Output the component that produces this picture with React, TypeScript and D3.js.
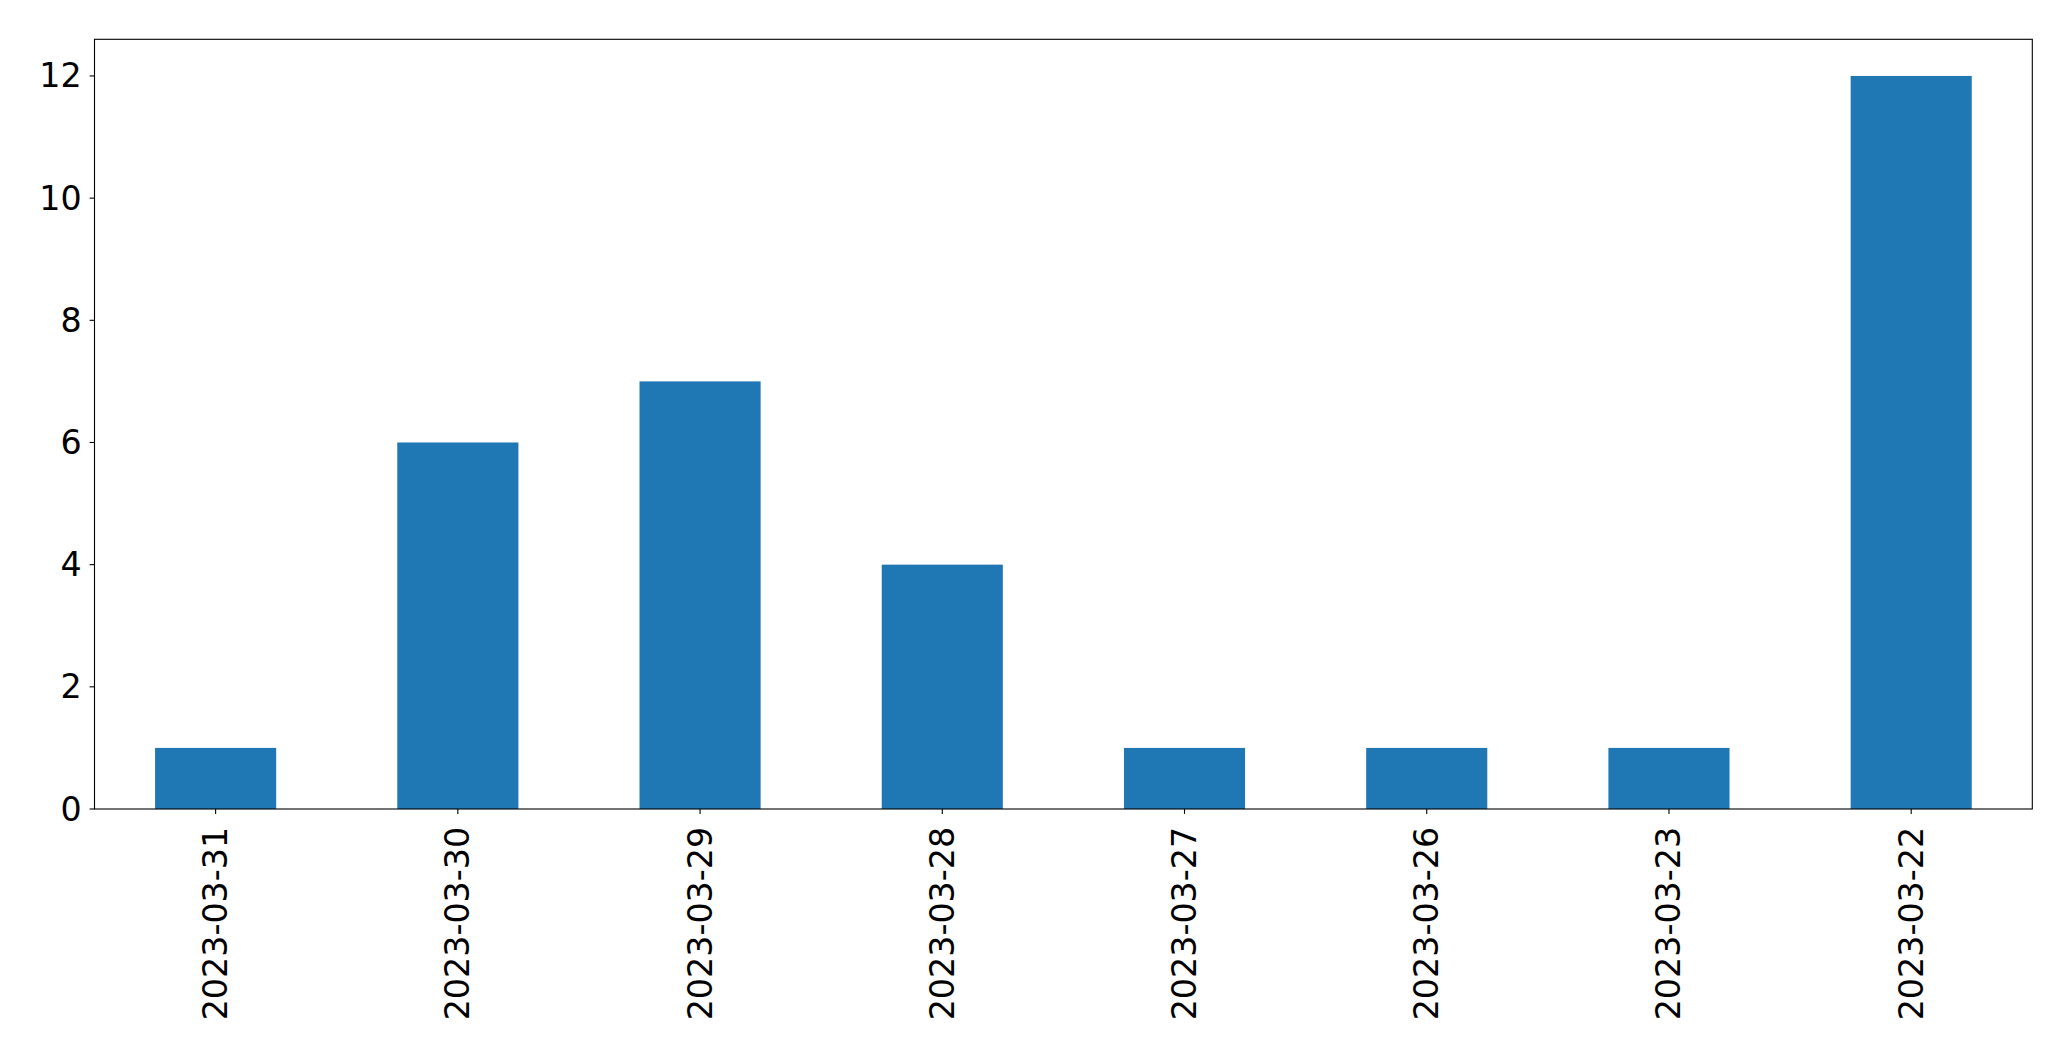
import React from "react";
import * as d3 from "d3";

// Daily counts, newest date first
const dates = [
  "2023-03-31",
  "2023-03-30",
  "2023-03-29",
  "2023-03-28",
  "2023-03-27",
  "2023-03-26",
  "2023-03-23",
  "2023-03-22",
];
const counts = [1, 6, 7, 4, 1, 1, 1, 12];
const yTicks = [0, 2, 4, 6, 8, 10, 12];

const W = 2071;
const H = 1061;
const margin = { left: 94.5, right: 2071 - 2032.3, top: 39.3, bottom: 1061 - 809 };
const FONT = "'DejaVu Sans', sans-serif";
const FS = 33.3;
const TICK = 4.9;
const PAD = 4.9;

export default function App() {
  const x0 = margin.left;
  const x1 = W - margin.right;
  const y0 = H - margin.bottom;
  const y1 = margin.top;

  const ymax = d3.max(counts)! * 1.05;
  const y = d3.scaleLinear().domain([0, ymax]).range([y0, y1]);
  // categorical positions on a linear scale from -0.5 to n-0.5, bar width 0.5
  const x = d3.scaleLinear().domain([-0.5, dates.length - 0.5]).range([x0, x1]);
  const bw = x(0.5) - x(0);

  return (
    <svg
      width={W}
      height={H}
      style={{ position: "absolute", left: 0, top: 0, background: "#fff" }}
      fontFamily={FONT}
    >
      <rect x={0} y={0} width={W} height={H} fill="#fff" />
      {counts.map((v, i) => (
        <rect
          key={dates[i]}
          x={x(i) - bw / 2}
          y={y(v)}
          width={bw}
          height={y(0) - y(v)}
          fill="#1f77b4"
        />
      ))}
      {/* frame */}
      <rect
        x={x0}
        y={y1}
        width={x1 - x0}
        height={y0 - y1}
        fill="none"
        stroke="#000"
        strokeWidth={1.1}
      />
      {/* y axis */}
      {yTicks.map((t) => (
        <g key={t}>
          <line x1={x0 - TICK} x2={x0} y1={y(t)} y2={y(t)} stroke="#000" strokeWidth={1.1} />
          <text
            x={x0 - TICK - PAD - 3}
            y={y(t)}
            textAnchor="end"
            dominantBaseline="central"
            fontSize={FS}
            fill="#000"
          >
            {t}
          </text>
        </g>
      ))}
      {/* x axis */}
      {dates.map((d, i) => (
        <g key={d}>
          <line x1={x(i)} x2={x(i)} y1={y0} y2={y0 + TICK} stroke="#000" strokeWidth={1.1} />
          <text
            transform={`translate(${x(i)},${y0 + TICK + PAD + 8}) rotate(-90)`}
            textAnchor="end"
            dominantBaseline="central"
            fontSize={FS}
            fill="#000"
          >
            {d}
          </text>
        </g>
      ))}
    </svg>
  );
}
